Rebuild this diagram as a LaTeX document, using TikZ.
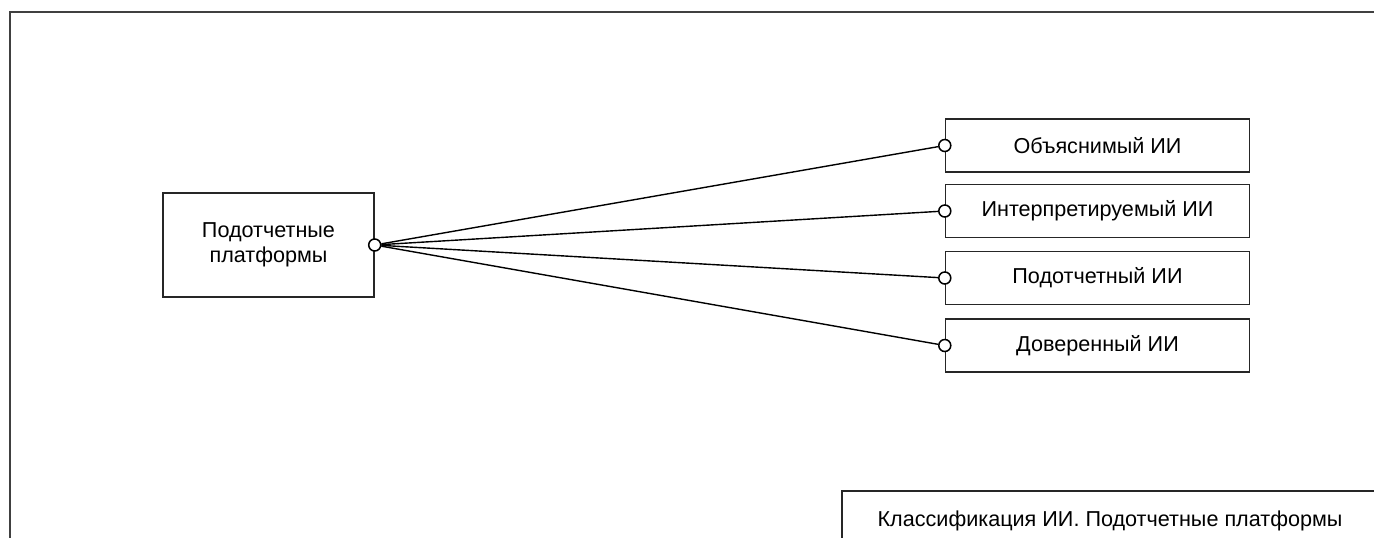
\documentclass[tikz,border=0pt]{standalone}
\usepackage{fontspec}
\setmainfont{Liberation Sans}
\begin{document}
\begin{tikzpicture}[x=1pt,y=-1pt,
  every node/.style={font=\fontsize{21.6}{25.5}\selectfont, text=black},
  box/.style={draw=black!85, line width=1.4pt, fill=white, align=center, inner sep=0pt},
  endcirc/.style={circle, draw=black, line width=1.5pt, fill=white, minimum size=12pt, inner sep=0pt},
  link/.style={draw=black, line width=1.4pt}]
  \path[use as bounding box] (0,0) rectangle (1374,538);
  \clip (0,0) rectangle (1374,538);
  % outer frame
  \draw[black!75, line width=2pt] (10,12) rectangle (1400,600);

  % source entity
  \node[box, minimum width=211pt, minimum height=104pt] (src) at (268.5,245) {Подотчетные\\платформы};

  % target entities
  \node[box, minimum width=304pt, minimum height=53pt] (t1) at (1097.5,145.5) {Объяснимый ИИ};
  \node[box, minimum width=304pt, minimum height=53pt] (t2) at (1097.5,211) {Интерпретируемый ИИ};
  \node[box, minimum width=304pt, minimum height=53pt] (t3) at (1097.5,278) {Подотчетный ИИ};
  \node[box, minimum width=304pt, minimum height=53pt] (t4) at (1097.5,345.5) {Доверенный ИИ};

  % title block
  \node[box, minimum width=536pt, minimum height=60pt] (title) at (1110,521) {Классификация ИИ. Подотчетные платформы};

  % connector end markers on the box borders
  \node[endcirc] (c0) at (src.east) {};
  \node[endcirc] (c1) at (t1.west) {};
  \node[endcirc] (c2) at (t2.west) {};
  \node[endcirc] (c3) at (t3.west) {};
  \node[endcirc] (c4) at (t4.west) {};

  % connectors
  \foreach \t in {c1,c2,c3,c4} {
    \draw[link] (c0) -- (\t);
  }
\end{tikzpicture}
\end{document}
